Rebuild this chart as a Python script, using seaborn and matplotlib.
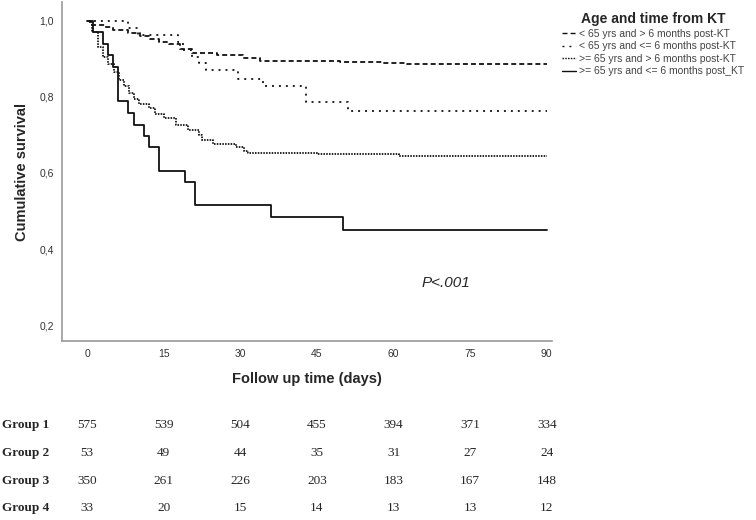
import matplotlib
matplotlib.use("Agg")
import matplotlib.pyplot as plt
import matplotlib.transforms as mtransforms
from matplotlib.lines import Line2D
import seaborn as sns

# Kaplan-Meier steps (days, cumulative survival)
g1_time = [0, 0.5, 3.5, 5.1, 8.1, 10.4, 12.4, 14.0, 16.0, 18.2, 20.5, 25.4, 30.6, 33.8, 49.5, 57.9, 62.6, 90]
g1_surv = [1.0, 0.989, 0.983, 0.976, 0.967, 0.960, 0.951, 0.945, 0.938, 0.925, 0.916, 0.910, 0.901, 0.894, 0.891, 0.889, 0.885, 0.885]

g2_time = [0, 8.1, 10.0, 17.8, 18.8, 20.5, 22.0, 23.2, 29.6, 34.5, 42.9, 51.0, 90]
g2_surv = [1.0, 0.981, 0.962, 0.943, 0.924, 0.905, 0.890, 0.870, 0.846, 0.828, 0.787, 0.763, 0.763]

g3_time = [0, 1.0, 2.1, 3.1, 4.2, 5.2, 6.3, 7.2, 8.2, 9.2, 10.2, 12.1, 13.3, 15.1, 17.4, 19.7,
           22.0, 22.6, 24.6, 29.2, 30.8, 31.5, 45.0, 61.0, 90]
g3_surv = [1.0, 0.970, 0.930, 0.905, 0.885, 0.865, 0.845, 0.828, 0.810, 0.795, 0.781, 0.770, 0.755, 0.745,
           0.726, 0.712, 0.699, 0.686, 0.676, 0.668, 0.658, 0.653, 0.649, 0.645, 0.645]

g4_time = [0, 1.1, 3.2, 4.2, 5.1, 6.1, 8.1, 9.2, 11.1, 12.1, 14.1, 19.1, 21.1, 36.1, 50.1, 90]
g4_surv = [1.0, 0.970, 0.939, 0.909, 0.879, 0.788, 0.758, 0.727, 0.697, 0.667, 0.606, 0.576, 0.515, 0.485, 0.449, 0.449]

group_names = ["< 65 yrs and > 6 months post-KT",
               "< 65 yrs and <= 6 months post-KT",
               ">= 65 yrs and > 6 months post-KT",
               ">= 65 yrs and <= 6 months post_KT"]

# numbers at risk table
risk_days = [0, 15, 30, 45, 60, 75, 90]
risk_labels = ["Group 1", "Group 2", "Group 3", "Group 4"]
risk_g1 = [575, 539, 504, 455, 394, 371, 334]
risk_g2 = [53, 49, 44, 35, 31, 27, 24]
risk_g3 = [350, 261, 226, 203, 183, 167, 148]
risk_g4 = [33, 20, 15, 14, 13, 13, 12]

sns.set_style("white")
plt.rcParams["font.family"] = ["Liberation Sans", "DejaVu Sans"]
plt.rcParams["lines.scale_dashes"] = False

fig = plt.figure(figsize=(7.56, 5.2), dpi=100)
ax = fig.add_axes([0.082, 0.344, 0.648, 0.652])

styles = [(0, (3.6, 2.2)), (0, (1.4, 3.6)), (0, (1.1, 0.9)), "-"]
series = [(g1_time, g1_surv), (g2_time, g2_surv), (g3_time, g3_surv), (g4_time, g4_surv)]
for (t, s), ls in zip(series, styles):
    sns.lineplot(x=t, y=s, ax=ax, color="#111111", linewidth=1.3, linestyle=ls,
                 drawstyle="steps-post", estimator=None, sort=False)

ax.set_xlim(-4.9, 91.0)
ax.set_ylim(0.158, 1.049)
ax.set_xticks(risk_days)
ax.set_yticks([0.2, 0.4, 0.6, 0.8, 1.0])
ax.set_yticklabels(["0,2", "0,4", "0,6", "0,8", "1,0"])
ax.tick_params(axis="both", length=0, labelsize=7.5, labelcolor="#333333", pad=6)
for side in ["top", "right"]:
    ax.spines[side].set_visible(False)
for side in ["left", "bottom"]:
    ax.spines[side].set_color("#999999")
    ax.spines[side].set_linewidth(1.2)

ax.set_xlabel("Follow up time (days)", fontsize=10.5, fontweight="bold", labelpad=9)
ax.set_ylabel("Cumulative survival", fontsize=10.5, fontweight="bold", labelpad=7)
ax.text(70.3, 0.31, "P<.001", fontsize=11, style="italic", ha="center", va="center")

handles = [Line2D([0], [0], color="#111111", linewidth=1.0, linestyle=ls) for ls in styles]
leg = fig.legend(handles, group_names, title="Age and time from KT", loc="upper left",
                 bbox_to_anchor=(0.731, 0.995), frameon=False, fontsize=7.5,
                 handlelength=1.3, handletextpad=0.35, labelspacing=0.25)
leg.get_title().set_fontweight("bold")
leg.get_title().set_fontsize(10)
for txt in leg.get_texts():
    txt.set_color("#444444")

# number at risk rows under the plot, columns aligned with the x ticks
trans = mtransforms.blended_transform_factory(ax.transData, fig.transFigure)
row_y = [425, 453, 481, 508]
rows = [risk_g1, risk_g2, risk_g3, risk_g4]
for label, vals, yp in zip(risk_labels, rows, row_y):
    yf = 1 - yp / 520
    fig.text(0.003, yf, label, fontsize=9.5, fontweight="bold", family="Liberation Serif", va="center")
    for d, v in zip(risk_days, vals):
        ax.text(d, yf, str(v), transform=trans, fontsize=9.5, family="Liberation Serif",
                ha="center", va="center", clip_on=False)

fig.savefig("out.png", dpi=100)
